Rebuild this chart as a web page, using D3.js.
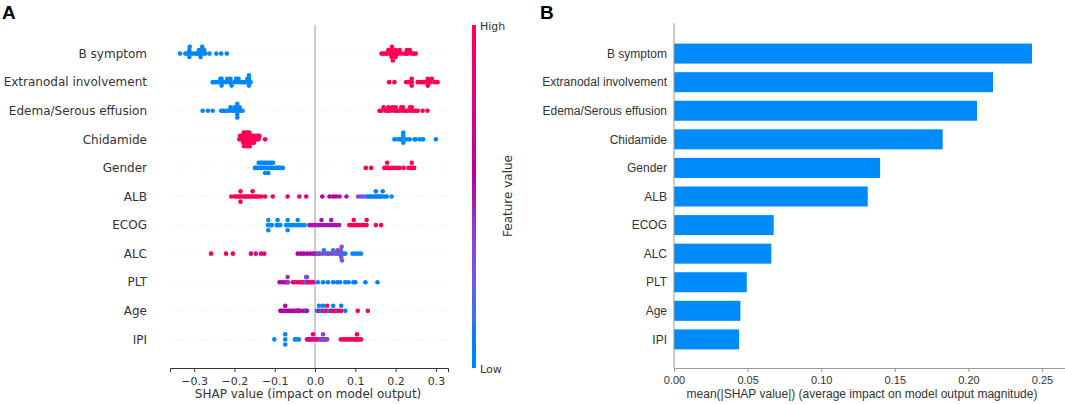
<!DOCTYPE html>
<html>
<head>
<meta charset="utf-8">
<script src="https://cdn.jsdelivr.net/npm/d3@7/dist/d3.min.js"></script>
<style>
  body { margin: 0; background: #fff; }
  svg { display: block; }
</style>
</head>
<body>
<div id="chart"></div>
<script>
var width = 1065;
var height = 404;

// feature names, top to bottom
const features = ["B symptom", "Extranodal involvement", "Edema/Serous effusion", "Chidamide",
  "Gender", "ALB", "ECOG", "ALC", "PLT", "Age", "IPI"];

// mean(|SHAP|) per feature (panel B)
const meanAbs = [0.2432, 0.2167, 0.2058, 0.1825, 0.1400, 0.1316, 0.0677, 0.0661, 0.0494, 0.0451, 0.0442];

// beeswarm points: [shap value, normalised feature value]
const bSymptom = [
  [-0.335,0],[-0.322,0],[-0.318,0],[-0.312,0],[-0.312,0],[-0.312,0],[-0.311,0],[-0.305,0],[-0.298,0],
  [-0.292,0],[-0.29,0],[-0.288,0],[-0.285,0],[-0.285,0],[-0.284,0],[-0.28,0],[-0.278,0],[-0.275,0],
  [-0.272,0],[-0.262,0],[-0.245,0],[-0.233,0],[-0.219,0],
  [0.165,1],[0.17,1],[0.175,1],[0.178,1],[0.182,1],[0.185,1],[0.19,1],[0.19,1],[0.19,1],[0.191,1],
  [0.193,1],[0.196,1],[0.2,1],[0.2,1],[0.203,1],[0.207,1],[0.21,1],[0.215,1],[0.222,1],[0.226,1],
  [0.228,1],[0.23,1],[0.235,1],[0.24,1],[0.245,1],[0.25,1]];
const extranodal = [
  [-0.254,0],[-0.25,0],[-0.245,0],[-0.24,0],[-0.235,0],[-0.232,0],[-0.232,0],[-0.232,0],[-0.228,0],
  [-0.222,0],[-0.218,0],[-0.213,0],[-0.21,0],[-0.21,0],[-0.207,0],[-0.2,0],[-0.196,0],[-0.192,0],
  [-0.19,0],[-0.185,0],[-0.18,0],[-0.176,0],[-0.172,0],[-0.168,0],[-0.164,0],[-0.164,0],[-0.164,0],
  [-0.164,0],[-0.16,0],
  [0.184,1],[0.197,1],[0.226,1],[0.234,1],[0.24,1],[0.24,1],[0.24,1],[0.255,1],[0.26,1],[0.265,1],
  [0.27,1],[0.275,1],[0.28,1],[0.28,1],[0.28,1],[0.285,1],[0.29,1],[0.296,1],[0.304,1]];
const edema = [
  [-0.279,0],[-0.266,0],[-0.254,0],[-0.233,0],[-0.228,0],[-0.222,0],[-0.218,0],[-0.214,0],[-0.21,0],
  [-0.206,0],[-0.203,0],[-0.2,0],[-0.197,0],[-0.193,0],[-0.193,0],[-0.193,0],[-0.193,0],[-0.19,0],
  [-0.187,0],[-0.184,0],[-0.18,0],
  [0.16,1],[0.165,1],[0.17,1],[0.175,1],[0.18,1],[0.182,1],[0.182,1],[0.187,1],[0.192,1],[0.196,1],
  [0.2,1],[0.2,1],[0.205,1],[0.21,1],[0.214,1],[0.218,1],[0.218,1],[0.223,1],[0.228,1],[0.232,1],
  [0.236,1],[0.24,1],[0.24,1],[0.245,1],[0.25,1],[0.255,1],[0.267,1],[0.279,1]];
const chidamide = [
  [-0.188,1],[-0.186,1],[-0.184,1],[-0.182,1],[-0.18,1],[-0.18,1],[-0.178,1],[-0.177,1],[-0.176,1],
  [-0.175,1],[-0.174,1],[-0.173,1],[-0.172,1],[-0.17,1],[-0.17,1],[-0.169,1],[-0.168,1],[-0.167,1],
  [-0.166,1],[-0.165,1],[-0.164,1],[-0.163,1],[-0.162,1],[-0.16,1],[-0.158,1],[-0.157,1],[-0.156,1],
  [-0.155,1],[-0.152,1],[-0.15,1],[-0.148,1],[-0.146,1],[-0.143,1],[-0.14,1],[-0.138,1],[-0.124,1],
  [0.197,0],[0.205,0],[0.211,0],[0.215,0],[0.219,0],[0.219,0],[0.219,0],[0.226,0],[0.235,0],
  [0.247,0],[0.25,0],[0.26,0],[0.268,0],[0.3,0]];
const gender = [
  [-0.149,0],[-0.146,0],[-0.143,0],[-0.14,0],[-0.138,0],[-0.136,0],[-0.134,0],[-0.132,0],[-0.13,0],
  [-0.128,0],[-0.126,0],[-0.125,0],[-0.124,0],[-0.122,0],[-0.12,0],[-0.118,0],[-0.117,0],[-0.116,0],
  [-0.114,0],[-0.112,0],[-0.11,0],[-0.108,0],[-0.106,0],[-0.104,0],[-0.1,0],[-0.096,0],[-0.092,0],
  [-0.088,0],[-0.085,0],[-0.08,0],
  [0.126,1],[0.139,1],[0.172,1],[0.176,1],[0.179,1],[0.179,1],[0.183,1],[0.19,1],[0.196,1],[0.203,1],
  [0.21,1],[0.22,1],[0.232,1],[0.238,1],[0.24,1],[0.242,1],[0.246,1]];
const alb = [
  [-0.208,1],[-0.2,1],[-0.195,1],[-0.19,1],[-0.186,1],[-0.185,1],[-0.185,1],[-0.18,1],[-0.176,1],
  [-0.172,1],[-0.168,1],[-0.164,1],[-0.16,1],[-0.155,1],[-0.155,1],[-0.15,1],[-0.145,1],[-0.14,1],
  [-0.134,1],[-0.124,0.92],[-0.105,0.88],[-0.068,0.82],[-0.039,0.8],[-0.022,0.78],
  [0.018,0.62],[0.036,0.58],[0.045,0.56],[0.052,0.55],[0.061,0.52],[0.078,0.5],
  [0.107,0.36],[0.114,0.32],[0.12,0.3],
  [0.128,0.1],[0.133,0.05],[0.138,0.08],[0.143,0.05],[0.147,0.1],[0.151,0.05],[0.151,0.05],[0.155,0.08],
  [0.158,0.05],[0.162,0.05],[0.165,0.1],[0.168,0.05],[0.172,0.05],[0.178,0.05],[0.19,0.02]];
const ecog = [
  [-0.117,0],[-0.116,0],[-0.116,0],[-0.113,0],[-0.11,0],[-0.107,0],[-0.095,0],[-0.093,0],[-0.093,0],
  [-0.09,0],[-0.086,0],[-0.072,0],[-0.068,0],[-0.068,0],[-0.068,0],[-0.065,0],[-0.06,0],[-0.055,0],
  [-0.05,0],[-0.043,0],[-0.043,0],[-0.04,0],[-0.035,0],[-0.03,0],[-0.026,0],
  [-0.014,0.5],[-0.01,0.5],[-0.005,0.5],[0,0.5],[0.005,0.5],[0.01,0.5],[0.016,0.5],[0.016,0.5],
  [0.02,0.5],[0.025,0.5],[0.03,0.5],[0.035,0.5],[0.04,0.5],[0.04,0.5],[0.045,0.5],[0.05,0.5],
  [0.055,0.5],[0.06,0.5],
  [0.085,1],[0.09,1],[0.096,1],[0.096,1],[0.1,1],[0.105,1],[0.11,1],[0.115,1],[0.12,1],[0.128,1],
  [0.128,1],[0.151,1],[0.164,1]];
const alc = [
  [-0.258,1],[-0.221,1],[-0.204,1],
  [-0.159,0.82],[-0.147,0.82],[-0.134,0.8],[-0.126,0.8],
  [-0.043,0.56],[-0.035,0.55],[-0.028,0.55],[-0.02,0.56],[-0.012,0.55],[-0.005,0.5],[0,0.52],
  [0.005,0.4],[0.01,0.15],[0.012,0.38],[0.02,0.36],[0.022,0.12],[0.028,0.35],[0.032,0.15],[0.035,0.38],
  [0.042,0.36],[0.045,0.12],[0.05,0.35],[0.055,0.15],[0.056,0.36],[0.06,0.34],[0.063,0.33],
  [0.064,0.34],[0.064,0.32],[0.065,0.33],[0.066,0.34],[0.067,0.3],[0.07,0.12],[0.075,0.1],
  [0.093,0],[0.1,0.02],[0.107,0],[0.114,0]];
const plt = [
  [-0.088,0.58],[-0.082,0.58],[-0.075,0.56],[-0.07,0.45],[-0.069,0.42],[-0.068,0.44],[-0.067,0.4],
  [-0.055,0.9],[-0.05,0.8],[-0.045,0.95],[-0.04,0.85],[-0.035,0.9],[-0.03,1],[-0.028,0.8],
  [-0.024,0.38],[-0.023,0.36],[-0.022,0.38],[-0.021,0.36],[-0.02,0.38],[-0.016,0.55],
  [-0.012,0.9],[-0.008,0.85],[-0.004,0.72],
  [0.007,0.05],[0.02,0.05],[0.032,0.05],[0.045,0.05],[0.055,0.05],[0.062,0.05],[0.075,0.05],
  [0.083,0.05],[0.095,0.05],[0.1,0.05],[0.125,0.05],[0.155,0.05]];
const age = [
  [-0.086,0.56],[-0.082,0.56],[-0.078,0.56],[-0.074,0.56],[-0.074,0.56],[-0.07,0.56],[-0.065,0.55],
  [-0.06,0.56],[-0.055,0.56],[-0.05,0.55],[-0.046,0.56],[-0.044,0.78],[-0.042,0.56],[-0.04,0.78],
  [-0.038,0.55],[-0.03,0.56],[-0.025,0.55],[-0.022,0.05],[-0.02,0.56],
  [0.005,0.05],[0.01,0.8],[0.01,0.05],[0.015,0.05],[0.02,1],[0.02,0.05],[0.025,0.05],[0.028,0.8],
  [0.03,1],[0.035,0.05],[0.04,1],[0.045,0.8],[0.045,0.05],[0.05,1],[0.055,0.05],[0.058,1],
  [0.065,1],[0.065,0.05],[0.075,0.05],[0.106,1],[0.131,1]];
const ipi = [
  [-0.101,0],[-0.074,0],[-0.074,0],[-0.074,0],[-0.05,0],[-0.045,0],[-0.04,0],
  [-0.02,0.78],[-0.015,0.78],[-0.012,0.62],[-0.01,0.78],[-0.005,0.78],[-0.005,0.78],[0,0.78],
  [0.005,0.78],[0.008,0.78],
  [0.012,0.38],[0.016,0.38],[0.018,0.38],[0.02,0.38],[0.02,0.38],[0.022,0.38],[0.024,0.38],
  [0.026,0.38],[0.03,0.38],
  [0.064,1],[0.07,1],[0.075,1],[0.08,1],[0.085,1],[0.09,1],[0.096,1],[0.1,1],[0.102,1],[0.104,1],
  [0.104,1],[0.108,1],[0.114,1]];

const swarmRows = [bSymptom, extranodal, edema, chidamide, gender, alb, ecog, alc, plt, age, ipi];

const shapTicks = [-0.3, -0.2, -0.1, 0, 0.1, 0.2, 0.3];
const barTicks = [0, 0.05, 0.1, 0.15, 0.2, 0.25];

// shap red_blue colormap (lch, lightness dips in the middle)
function featColor(t) {
  var l = t < 0.5 ? 54 - 28 * t : 40 + 28 * (t - 0.5);
  var c = 70 + 20 * t;
  var h = 267 + (380 - 267) * t;
  return d3.lch(l, c, h % 360).formatHex();
}

const svg = d3.select("#chart")
  .append("svg")
  .attr("width", width)
  .attr("height", height)
  .style("font-family", "DejaVu Sans, sans-serif");

// ---------- panel A ----------
const x = d3.scaleLinear().domain([-0.36, 0.33]).range([170, 448]);
const y = d3.scaleLinear().domain([-1, 11]).range([368, 25]);
const rowY = function(i) { return y(features.length - 1 - i); };
const rowPx = y(0) - y(1);

svg.append("text").attr("x", 2).attr("y", 19)
  .style("font-family", "Liberation Sans, Arial, sans-serif")
  .style("font-weight", "bold").style("font-size", "19px").text("A");

svg.selectAll(".grid").data(features).enter().append("line")
  .attr("x1", x.range()[0]).attr("x2", x.range()[1])
  .attr("y1", (d, i) => rowY(i)).attr("y2", (d, i) => rowY(i))
  .attr("stroke", "#d4d4d4").attr("stroke-width", 0.6)
  .attr("stroke-dasharray", "1,5");

svg.append("line")
  .attr("x1", x(0)).attr("x2", x(0)).attr("y1", y(11)).attr("y2", y(-1))
  .attr("stroke", "#999999").attr("stroke-width", 1);

// beeswarm layout like shap: bin values, stack alternately up/down
swarmRows.forEach(function(row, i) {
  var vals = row.map(d => d[0]);
  var lo = d3.min(vals), hi = d3.max(vals);
  var quant = vals.map(v => Math.round(100 * (v - lo) / (hi - lo + 1e-8)));
  var inds = d3.range(row.length).sort((a, b) => quant[a] - quant[b] || vals[a] - vals[b]);
  var ys = new Array(row.length).fill(0);
  var layer = 0, lastBin = -1;
  inds.forEach(function(k) {
    if (quant[k] !== lastBin) layer = 0;
    ys[k] = Math.ceil(layer / 2) * ((layer % 2) * 2 - 1);
    layer += 1;
    lastBin = quant[k];
  });
  var scale = 0.9 * (0.4 / (d3.max(ys) + 1));
  svg.append("g").selectAll("circle").data(row).enter().append("circle")
    .attr("cx", d => x(d[0]))
    .attr("cy", (d, k) => rowY(i) - ys[k] * scale * rowPx)
    .attr("r", 2.3)
    .attr("fill", d => featColor(d[1]));
});

svg.selectAll(".flabel").data(features).enter().append("text")
  .attr("x", 147).attr("y", (d, i) => rowY(i))
  .attr("dy", "0.35em").attr("text-anchor", "end")
  .style("font-size", "12px").attr("fill", "#333")
  .text(d => d);

const xAxis = svg.append("g")
  .attr("transform", "translate(0," + y(-1) + ")")
  .call(d3.axisBottom(x).tickValues(shapTicks).tickFormat(d3.format(".1f")).tickSizeOuter(0).tickSize(4));
xAxis.select(".domain").attr("stroke", "#333");
xAxis.selectAll(".tick line").attr("stroke", "#333");
xAxis.selectAll("text").attr("fill", "#333").style("font-size", "11px")
  .style("font-family", "DejaVu Sans, sans-serif").attr("dy", "0.9em");

svg.append("text").attr("x", x(0) - 7).attr("y", 398)
  .attr("text-anchor", "middle").style("font-size", "12px").attr("fill", "#333")
  .text("SHAP value (impact on model output)");

// colour bar
const grad = svg.append("defs").append("linearGradient")
  .attr("id", "fv").attr("x1", 0).attr("x2", 0).attr("y1", 1).attr("y2", 0);
d3.range(0, 1.0001, 0.05).forEach(function(t) {
  grad.append("stop").attr("offset", t).attr("stop-color", featColor(t));
});
svg.append("rect").attr("x", 472).attr("y", 25).attr("width", 4).attr("height", 343)
  .attr("fill", "url(#fv)");
svg.append("text").attr("x", 480).attr("y", 30).style("font-size", "11px").attr("fill", "#333").text("High");
svg.append("text").attr("x", 480).attr("y", 373).style("font-size", "11px").attr("fill", "#333").text("Low");
svg.append("text").attr("transform", "translate(512,196) rotate(-90)")
  .attr("text-anchor", "middle").style("font-size", "12px").attr("fill", "#333")
  .text("Feature value");

// ---------- panel B ----------
const bx = d3.scaleLinear().domain([0, 0.2656]).range([674, 1065]);

svg.append("text").attr("x", 540).attr("y", 19)
  .style("font-family", "Liberation Sans, Arial, sans-serif")
  .style("font-weight", "bold").style("font-size", "19px").text("B");

svg.selectAll(".bar").data(meanAbs).enter().append("rect")
  .attr("x", bx(0))
  .attr("y", (d, i) => rowY(i) - 0.35 * rowPx)
  .attr("width", d => bx(d) - bx(0))
  .attr("height", 0.7 * rowPx)
  .attr("fill", "#008bfb");

svg.append("line")
  .attr("x1", bx(0)).attr("x2", bx(0)).attr("y1", 23).attr("y2", y(-1))
  .attr("stroke", "#999").attr("stroke-width", 1);

svg.selectAll(".blabel").data(features).enter().append("text")
  .attr("x", 667).attr("y", (d, i) => rowY(i))
  .attr("dy", "0.35em").attr("text-anchor", "end")
  .style("font-family", "Liberation Sans, Arial, sans-serif")
  .style("font-size", "12px").attr("fill", "#333")
  .text(d => d);

const bAxis = svg.append("g")
  .attr("transform", "translate(0," + y(-1) + ")")
  .call(d3.axisBottom(bx).tickValues(barTicks).tickFormat(d3.format(".2f")).tickSizeOuter(0).tickSize(4));
bAxis.select(".domain").attr("stroke", "#999");
bAxis.selectAll(".tick line").attr("stroke", "#999");
bAxis.selectAll("text").attr("fill", "#333").style("font-size", "11px")
  .style("font-family", "Liberation Sans, Arial, sans-serif").attr("dy", "0.8em");

svg.append("text").attr("x", 862).attr("y", 398)
  .attr("text-anchor", "middle")
  .style("font-family", "Liberation Sans, Arial, sans-serif")
  .style("font-size", "12px").attr("fill", "#333")
  .text("mean(|SHAP value|) (average impact on model output magnitude)");
</script>
</body>
</html>
